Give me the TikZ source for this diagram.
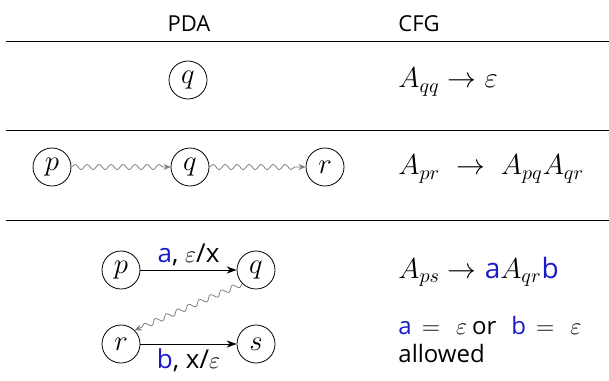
\documentclass[tikz,border=0pt]{standalone}
\usepackage{fontspec}
\setmainfont{Open Sans}
\usepackage{tikz}
\usetikzlibrary{arrows.meta,positioning,decorations.pathmorphing}
\definecolor{Ink}{HTML}{1A1AC8}
\colorlet{sym}{Ink}
\newcommand{\sy}[1]{\textcolor{sym}{#1}}

\begin{document}
\begin{tikzpicture}[x=0.5pt,y=-0.5pt,every node/.style={font=\fontsize{12}{14}\selectfont},
  state/.style={draw,circle,minimum size=19pt,inner sep=0pt,font=\fontsize{14}{16}\selectfont},
  rule/.style={anchor=west,inner sep=0pt,font=\fontsize{14}{16}\selectfont},
  note/.style={anchor=west,inner sep=0pt},
  lbl/.style={font=\fontsize{13}{15}\selectfont},
  squig/.style={draw=gray,-{Stealth[length=3.5pt,width=3pt]},decorate,decoration={snake,amplitude=1.3pt,segment length=6pt,post length=3pt}},
  move/.style={-{Stealth[length=5pt,width=3.6pt]}}]
\useasboundingbox (0,0) rectangle (609,380);
% header
\node[font=\fontsize{11}{13}\selectfont] (hpda) at (189,24) {PDA};
\node[note,font=\fontsize{11}{13}\selectfont] (hcfg) at (398,24) {CFG};
\draw (6,41) -- (609,41);
% empty run
\node[state] (q1) at (188,80) {$q$};
\node[rule] (f1) at (398,82) {$A_{qq}\to\varepsilon$};
\draw (6,130) -- (609,130);
% split at q
\node[state] (p2) at (52,167) {$p$};
\node[state] (q2) at (190,167) {$q$};
\node[state] (r2) at (325,167) {$r$};
\node[rule] (f2) at (398,169) {$A_{pr}\;\to\;A_{pq}A_{qr}$};
\draw[squig] (p2)--(q2);\draw[squig] (q2)--(r2);
\draw (6,220) -- (609,220);
% push and pop
\node[state] (p3) at (121,270) {$p$};
\node[state] (q3) at (256,270) {$q$};
\node[state] (r3) at (121,344) {$r$};
\node[state] (s3) at (256,344) {$s$};
\draw[move] (p3)--node[above,lbl,inner sep=2pt]{\sy{a}, $\varepsilon$/x}(q3);
\draw[move] (r3)--node[below,lbl,inner sep=2pt]{\sy{b}, x/$\varepsilon$}(s3);
\draw[squig] (q3.south west)--(r3.north east);
\node[rule] (f3) at (398,272) {$A_{ps}\to\mbox{\sy{a}}A_{qr}\mbox{\sy{b}}$};
\node[note] (n3) at (398,325) {\sy{a}\hspace{5pt}$=$\hspace{8pt}$\varepsilon$\hspace{2.5pt}or\hspace{7.5pt}\sy{b}\hspace{5pt}$=$\hspace{8pt}$\varepsilon$};
\node[note] (n4) at (398,353) {allowed};
\end{tikzpicture}
\end{document}
